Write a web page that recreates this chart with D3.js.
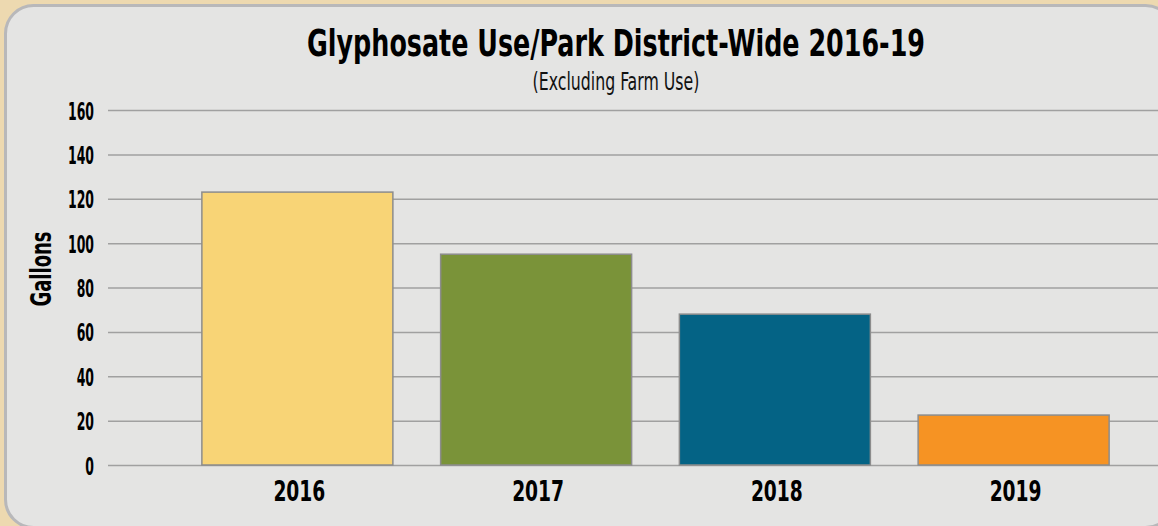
<!DOCTYPE html>
<html>
<head>
<meta charset="utf-8">
<script src="https://cdn.jsdelivr.net/npm/d3@7"></script>
<style>
  html, body { margin: 0; padding: 0; background: #EDD9B0; }
  svg { display: block; }
  text { font-family: "Liberation Sans Narrow", "DejaVu Sans Condensed", "Liberation Sans", sans-serif; font-weight: bold; fill: #000; }
</style>
</head>
<body>
<div id="chart"></div>
<script>
// chart data
var years = ["2016", "2017", "2018", "2019"];
var gallons = [123, 95, 68, 22.5];
var barColors = ["#F8D476", "#7A9339", "#046385", "#F69323"];
var yTicks = [0, 20, 40, 60, 80, 100, 120, 140, 160];

var titleText = "Glyphosate Use/Park District-Wide 2016-19";
var subtitleText = "(Excluding Farm Use)";
var yLabel = "Gallons";

var svgWidth = 1158,
    svgHeight = 526;

var svg = d3.select("#chart")
    .append("svg")
    .attr("width", svgWidth)
    .attr("height", svgHeight);

// beige back + grey rounded panel
svg.append("rect")
    .attr("width", svgWidth)
    .attr("height", svgHeight)
    .attr("fill", "#EDD9B0");

svg.append("rect")
    .attr("x", 5.5)
    .attr("y", 5.5)
    .attr("width", 1168)
    .attr("height", 522)
    .attr("rx", 28)
    .attr("fill", "#E4E4E3")
    .attr("stroke", "#B8B8BA")
    .attr("stroke-width", 3);

var x = d3.scaleBand()
    .domain(years)
    .range([178, 1133])
    .paddingInner(0.2)
    .paddingOuter(0.1);

var y = d3.scaleLinear()
    .domain([0, 160])
    .range([465, 110]);

// squeeze text sideways so it looks like a condensed face
function squeeze(textSel, target) {
    var w = textSel.node().getComputedTextLength();
    return w > 0 ? target / w : 1;
}

// y axis with gridlines
var yAxis = svg.append("g")
    .attr("transform", "translate(108,0)")
    .call(d3.axisLeft(y).tickValues(yTicks).tickSize(-1060).tickPadding(0));

yAxis.select(".domain").remove();
yAxis.selectAll(".tick line")
    .attr("stroke", "#A0A0A0")
    .attr("stroke-width", 1.5);

var yText = yAxis.selectAll(".tick text")
    .attr("x", null)
    .attr("dy", null)
    .style("font-size", "25px")
    .attr("text-anchor", "end");

var ky = squeeze(yAxis.selectAll(".tick text").filter(function(d) { return d === 160; }), 26);
yText.attr("transform", "translate(-14,9) scale(" + ky + ",1)");

// bars
svg.append("g")
    .selectAll("rect")
    .data(gallons)
    .enter()
    .append("rect")
    .attr("x", function(d, i) { return x(years[i]); })
    .attr("y", function(d) { return y(d); })
    .attr("width", x.bandwidth())
    .attr("height", function(d) { return y(0) - y(d); })
    .attr("fill", function(d, i) { return barColors[i]; })
    .attr("stroke", "#8C8C8C")
    .attr("stroke-width", 1.5);

// x labels
var xAxis = svg.append("g")
    .attr("transform", "translate(0,465)")
    .call(d3.axisBottom(x).tickSize(0).tickPadding(0));

xAxis.select(".domain").remove();
var xText = xAxis.selectAll(".tick text")
    .attr("y", null)
    .attr("dy", null)
    .style("font-size", "29px");
var kx = squeeze(xAxis.select(".tick text"), 52);
xText.attr("transform", "translate(2,36) scale(" + kx + ",1)");

// title
var title = svg.append("text")
    .attr("text-anchor", "middle")
    .style("font-size", "38px")
    .text(titleText);
var kt = squeeze(title, 618);
title.attr("transform", "translate(616,56) scale(" + kt + ",1)");

var subtitle = svg.append("text")
    .attr("text-anchor", "middle")
    .style("font-size", "24px")
    .style("font-weight", "normal")
    .style("fill", "#111")
    .text(subtitleText);
var ks = squeeze(subtitle, 167);
subtitle.attr("transform", "translate(616,90) scale(" + ks + ",1)");

// y label
var gl = svg.append("text")
    .attr("text-anchor", "middle")
    .style("font-size", "29px")
    .text(yLabel);
var kg = squeeze(gl, 75);
gl.attr("transform", "translate(51,269) rotate(-90) scale(" + kg + ",1)");
</script>
</body>
</html>
